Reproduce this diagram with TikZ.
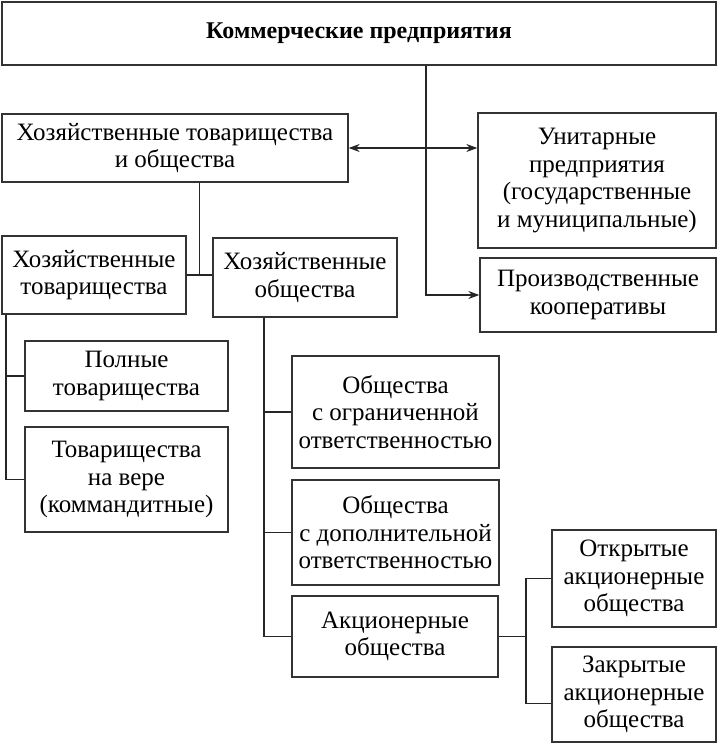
\documentclass[tikz,border=0pt]{standalone}
\usepackage{fontspec}
\setmainfont{Liberation Serif}
\usetikzlibrary{arrows.meta, positioning, calc}

\begin{document}
\begin{tikzpicture}[x=1pt, y=-1pt,
    box/.style={draw=black!80, line width=1.3pt, fill=white, align=center,
      inner sep=1pt, font=\fontsize{25}{27.5}\selectfont},
    link/.style={black!85, line width=1.2pt},
    arr/.style={link, -{Stealth[length=11pt, width=8pt]}}]
  \useasboundingbox (0,0) rectangle (718,744);

  \node[box, minimum width=714pt, minimum height=63pt, font=\fontsize{24}{26}\selectfont\bfseries]
    (top) at (359,33.5) {Коммерческие предприятия};

  \node[box, minimum width=346pt, minimum height=68pt] (hto) at (175,148)
    {Хозяйственные товарищества\\и общества};
  \node[box, minimum width=238pt, minimum height=135pt] (unit) at (597,180.5)
    {Унитарные\\предприятия\\(государственные\\и муниципальные)};
  \node[box, minimum width=236pt, minimum height=74pt] (coop) at (598,295)
    {Производственные\\кооперативы};

  \node[box, minimum width=184pt, minimum height=78pt] (ht) at (94,275)
    {Хозяйственные\\товарищества};
  \node[box, minimum width=184pt, minimum height=79pt] (ho) at (305,277.5)
    {Хозяйственные\\общества};

  \node[box, minimum width=203pt, minimum height=70pt] (full) at (126.5,376)
    {Полные\\товарищества};
  \node[box, minimum width=203pt, minimum height=105pt] (kom) at (126.5,479.5)
    {Товарищества\\на вере\\(коммандитные)};

  \node[box, minimum width=207pt, minimum height=112pt] (ooo) at (395.5,412)
    {Общества\\с ограниченной\\ответственностью};
  \node[box, minimum width=207pt, minimum height=105pt] (odo) at (395.5,532.5)
    {Общества\\с дополнительной\\ответственностью};
  \node[box, minimum width=206pt, minimum height=81pt] (ao) at (395,636.5)
    {Акционерные\\общества};

  \node[box, minimum width=164pt, minimum height=97pt] (oao) at (634,578.5)
    {Открытые\\акционерные\\общества};
  \node[box, minimum width=164pt, minimum height=95pt] (zao) at (634,694.5)
    {Закрытые\\акционерные\\общества};

  \coordinate (trunk) at (426,0);
  \draw[arr] (top.south -| trunk) |- (coop.west);
  \draw[link, {Stealth[length=11pt, width=8pt]}-{Stealth[length=11pt, width=8pt]}]
    (hto.east) -- (hto.east -| unit.west);

  \coordinate (mid) at ($(ht.east)!0.5!(ho.west)$);
  \draw[link] (ht.east) -- (ht.east -| ho.west);
  \draw[link] (hto.south -| mid) -- (mid);

  \coordinate (lrail) at (6,0);
  \draw[link] (ht.south -| lrail) |- (full.west);
  \draw[link] (ht.south -| lrail) |- (kom.west);

  \coordinate (mrail) at (264,0);
  \draw[link] (ho.south -| mrail) |- (ooo.west);
  \draw[link] (ho.south -| mrail) |- (odo.west);
  \draw[link] (ho.south -| mrail) |- (ao.west);

  \coordinate (rrail) at (526,0);
  \coordinate (zin) at ([yshift=-9pt]zao.west);
  \draw[link] (ao.east) -- (ao.east -| rrail);
  \draw[link] (oao.west) -| (rrail |- zin) -- (zin);
\end{tikzpicture}
\end{document}
